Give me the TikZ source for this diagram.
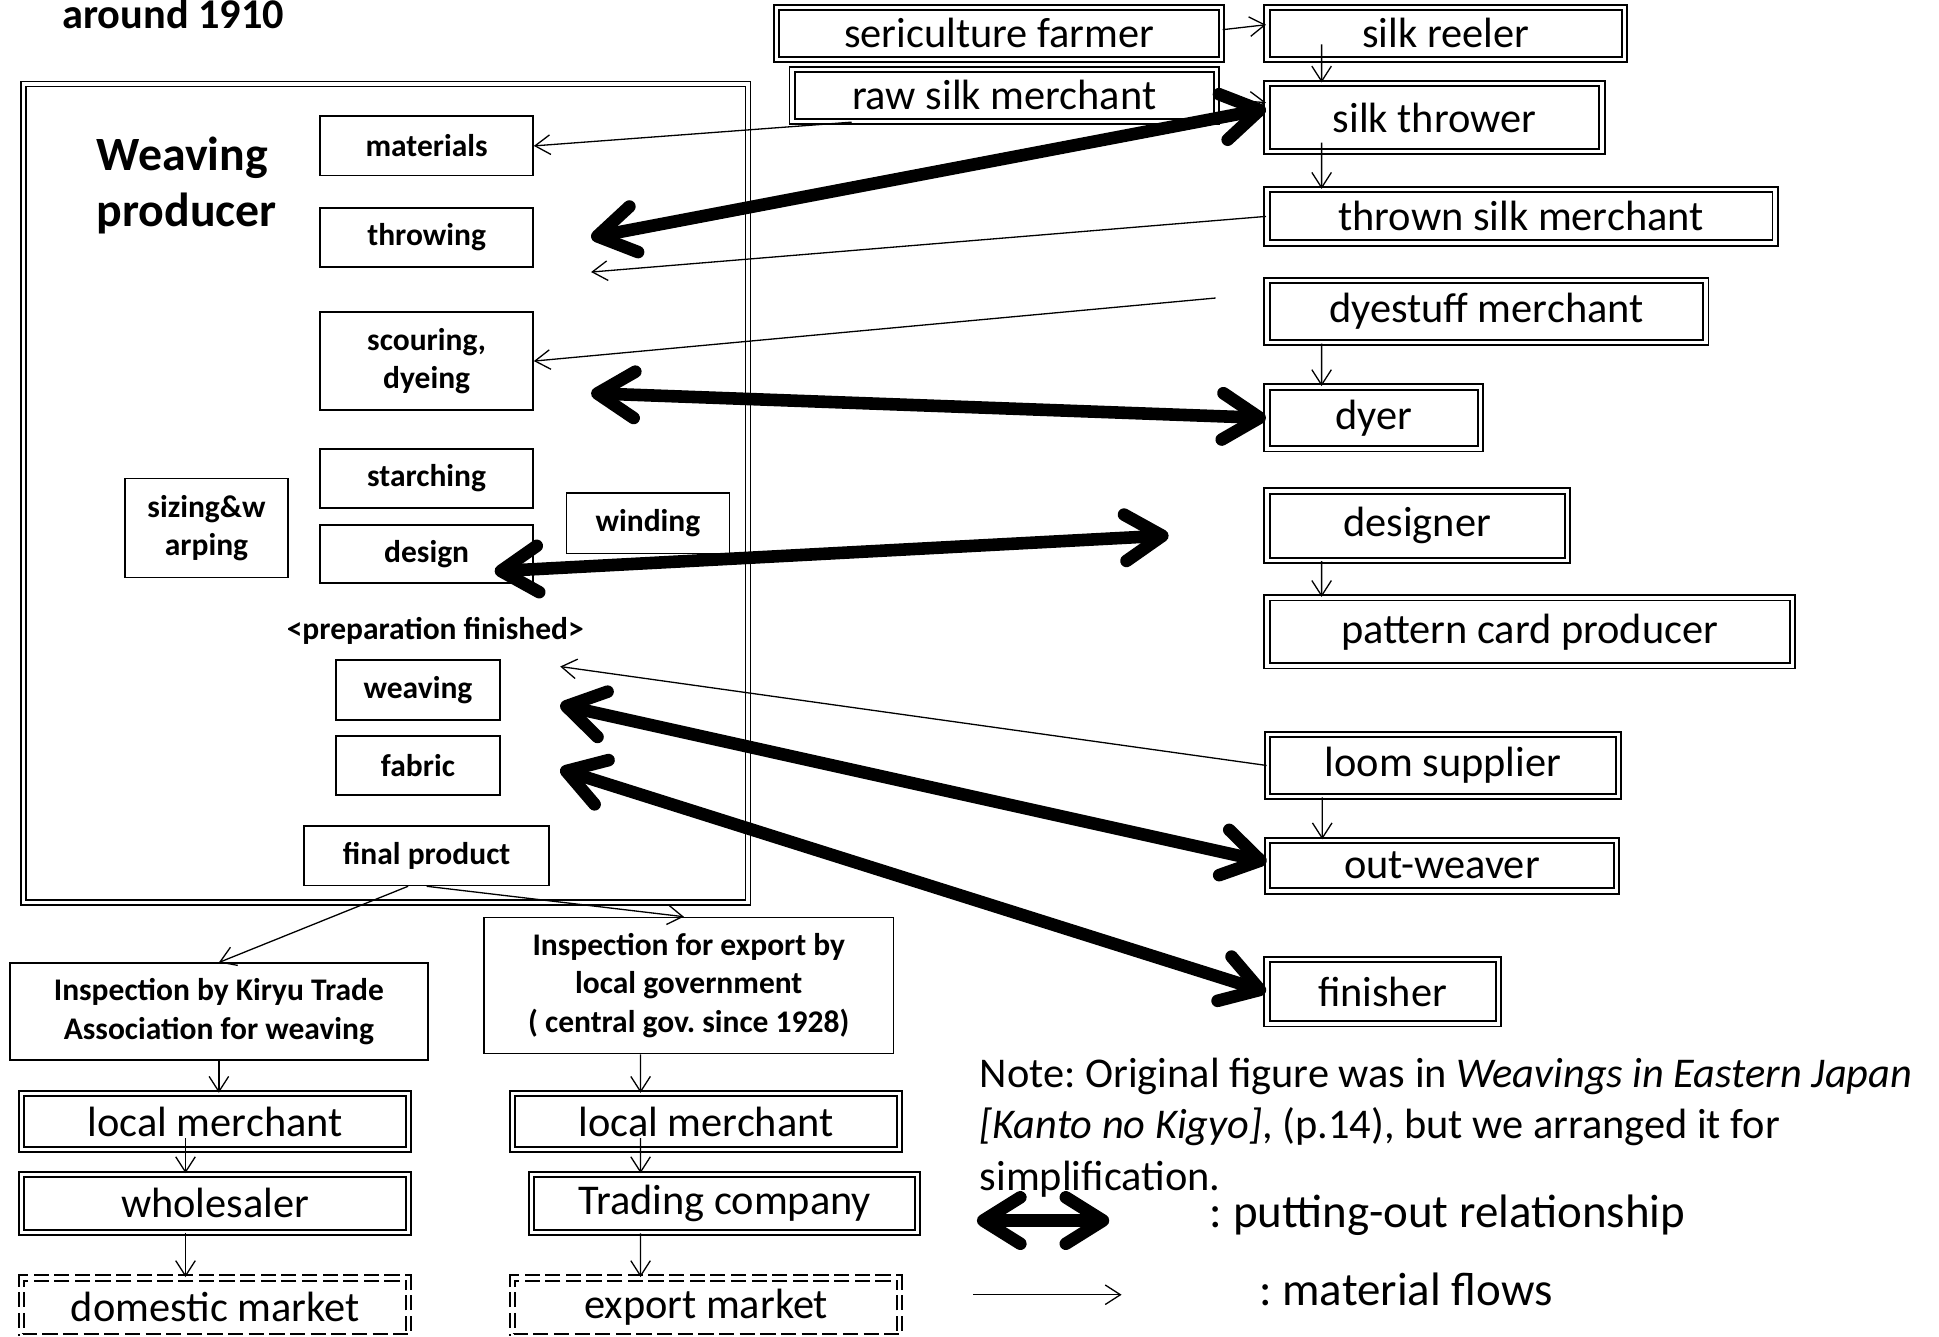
\documentclass[tikz,border=0pt]{standalone}
\usepackage{fontspec}
\setmainfont{Carlito}
\usetikzlibrary{arrows.meta, positioning}
\frenchspacing

\begin{document}
\begin{tikzpicture}[
  x=0.02cm, y=-0.02cm,
  actor/.style={draw, double, double distance=1.5pt, line width=0.9pt,
                inner sep=2pt, font=\fontsize{19.5}{22}\selectfont},
  market/.style={actor, dash pattern=on 7pt off 2.5pt},
  stage/.style={draw, line width=0.8pt, align=center, inner sep=2pt,
                font=\fontsize{14.5}{17.6}\selectfont\bfseries},
  frame/.style={draw, double, double distance=1.6pt, line width=0.7pt},
  flow/.style={-{Straight Barb[length=7pt, width=9pt]}, line width=0.6pt},
  putout/.style={{Straight Barb[length=0.6cm, width=0.75cm, round]}-{Straight Barb[length=0.6cm, width=0.75cm, round]},
                 line width=5.8pt},
  lgd/.style={font=\fontsize{21.6}{24}\selectfont, anchor=west, inner sep=0pt}
]
\useasboundingbox (0,0) rectangle (1568,1081);

\node[font=\fontsize{19.5}{22}\selectfont\bfseries, anchor=base west, inner sep=0pt] (year) at (50,23) {around 1910};

% weaving producer and its stages
\node[frame, minimum width=11.72cm, minimum height=13.24cm] (wp) at (312,399) {};
\node[font=\fontsize{22}{26}\selectfont\bfseries, align=left, anchor=west] (wplbl) at (72,150) {Weaving\\producer};

\node[stage, minimum width=3.44cm, minimum height=0.96cm] (mat) at (345,118) {materials};
\node[stage, minimum width=3.44cm, minimum height=0.96cm] (thr) at (345,192) {throwing};
\node[stage, minimum width=3.44cm, minimum height=1.58cm] (scour) at (345,292) {scouring,\\dyeing};
\node[stage, minimum width=3.44cm, minimum height=0.96cm] (starch) at (345,387) {starching};
\node[stage, minimum width=3.44cm, minimum height=0.94cm] (des) at (345,448) {design};
\node[stage, minimum width=2.64cm, minimum height=1.6cm] (size) at (167,427) {sizing\&w\\arping};
\node[stage, minimum width=2.64cm, minimum height=0.98cm] (wind) at (524,423) {winding};
\node[font=\fontsize{14.5}{17}\selectfont\bfseries] (prep) at (352,510) {\textless preparation finished\textgreater};
\node[stage, minimum width=2.66cm, minimum height=0.96cm] (weav) at (338,558) {weaving};
\node[stage, minimum width=2.66cm, minimum height=0.96cm] (fab) at (338,619) {fabric};
\node[stage, minimum width=3.96cm, minimum height=0.96cm] (fp) at (345,692) {final product};

% outside actors
\node[actor, minimum width=7.2cm, minimum height=0.84cm] (seri) at (808,27) {sericulture farmer};
\node[actor, minimum width=5.78cm, minimum height=0.84cm] (sr) at (1169,27) {silk reeler};
\node[actor, minimum width=6.86cm, minimum height=0.84cm] (rsm) at (812,77) {raw silk merchant};
\node[actor, minimum width=5.42cm, minimum height=1.1cm] (st) at (1160,95) {silk thrower};
\node[actor, minimum width=8.22cm, minimum height=0.86cm] (tsm) at (1230,175) {thrown silk merchant};
\node[actor, minimum width=7.1cm, minimum height=1.0cm] (dsm) at (1202,252) {dyestuff merchant};
\node[actor, minimum width=3.46cm, minimum height=1.0cm] (dyer) at (1111,338) {dyer};
\node[actor, minimum width=4.86cm, minimum height=1.12cm] (dsg) at (1146,425) {designer};
\node[actor, minimum width=8.5cm, minimum height=1.1cm] (pcp) at (1237,511) {pattern card producer};
\node[actor, minimum width=5.68cm, minimum height=1.0cm] (ls) at (1167,619) {loom supplier};
\node[actor, minimum width=5.64cm, minimum height=0.82cm] (ow) at (1166,700) {out-weaver};
\node[actor, minimum width=3.74cm, minimum height=1.04cm] (fin) at (1118,802) {finisher};

% inspection and sales
\node[stage, minimum width=6.76cm, minimum height=1.56cm] (kiryu) at (177,818) {Inspection by Kiryu Trade\\Association for weaving};
\node[stage, minimum width=6.62cm, minimum height=2.2cm] (expi) at (557,797) {Inspection for export by\\local government\\( central gov. since 1928)};
\node[actor, minimum width=6.26cm, minimum height=0.9cm] (lm1) at (174,907) {local merchant};
\node[actor, minimum width=6.26cm, minimum height=0.94cm] (wh) at (174,973) {wholesaler};
\node[market, minimum width=6.26cm, minimum height=0.94cm] (dom) at (174,1057) {domestic market};
\node[actor, minimum width=6.26cm, minimum height=0.9cm] (lm2) at (571,907) {local merchant};
\node[actor, minimum width=6.24cm, minimum height=0.94cm] (tc) at (586,973) {Trading company};
\node[market, minimum width=6.26cm, minimum height=0.94cm] (em) at (571,1057) {export market};

% note and legend
\node[anchor=north west, align=left, inner sep=0pt, font=\fontsize{19.5}{23.8}\selectfont] (note) at (792,855)
  {Note: Original figure was in \textit{Weavings in Eastern Japan}\\
   \textit{[Kanto no Kigyo]}, (p.14), but we arranged it for\\
   simplification.};
\coordinate (lgput1) at (790,987);
\coordinate (lgput2) at (897,987);
\coordinate (lgflow1) at (787,1047);
\coordinate (lgflow2) at (907,1047);
\node[lgd] (lgputlbl) at (978,983) {: putting-out relationship};
\node[lgd] (lgflowlbl) at (1018,1043) {: material flows};

% free ends
\coordinate (thrin) at (478,220);
\coordinate (throut) at (478,192);
\coordinate (dyeout) at (983,241);
\coordinate (scourout) at (478,318);
\coordinate (desout) at (400,462);
\coordinate (dsgin) at (945,433);
\coordinate (prepin) at (453,539);
\coordinate (weavout) at (453,570);
\coordinate (fabout) at (453,622);

% material flows
\draw[flow] ([yshift=0.06cm]seri.east) -- ([yshift=0.14cm]sr.west);
\draw[flow] ([yshift=-0.06cm]rsm.east) -- ([yshift=0.24cm]st.west);
\draw[flow] ([xshift=0.9cm, yshift=0.26cm]sr.south west) -- ([xshift=0.9cm]st.north west);
\draw[flow] ([xshift=0.9cm, yshift=0.16cm]st.south west) -- ([xshift=0.9cm]tsm.north west);
\draw[flow] ([xshift=0.98cm]rsm.south west) -- (mat.east);
\draw[flow] (tsm.west) -- (thrin);
\draw[flow] (dyeout) -- (scour.east);
\draw[flow] ([xshift=0.9cm]dsm.south west) -- ([xshift=0.9cm]dyer.north west);
\draw[flow] ([xshift=0.9cm]dsg.south west) -- ([xshift=0.9cm]pcp.north west);
\draw[flow] (ls.west) -- (prepin);
\draw[flow] ([xshift=0.9cm]ls.south west) -- ([xshift=0.9cm]ow.north west);
\draw[flow] ([xshift=-0.3cm]fp.south) -- (kiryu.north);
\draw[flow] (fp.south) -- ([xshift=-0.08cm]expi.north);
\draw[flow] (kiryu.south) -- (kiryu.south |- lm1.north);
\draw[flow] ([xshift=-0.48cm, yshift=0.2cm]lm1.south) -- ([xshift=-0.48cm]wh.north);
\draw[flow] ([xshift=-0.48cm]wh.south) -- ([xshift=-0.48cm]dom.north);
\draw[flow] ([xshift=-0.78cm]expi.south) -- ([xshift=-1.06cm]lm2.north);
\draw[flow] ([xshift=-1.06cm, yshift=0.2cm]lm2.south) -- ([xshift=-1.36cm]tc.north);
\draw[flow] ([xshift=-1.36cm]tc.south) -- ([xshift=-1.06cm]em.north);

% putting-out
\draw[putout] (throut) -- ([yshift=0.14cm]st.west);
\draw[putout] (scourout) -- (dyer.west);
\draw[putout] (desout) -- (dsgin);
\draw[putout] (weavout) -- ([yshift=0.06cm]ow.west);
\draw[putout] (fabout) -- (fin.west);

% legend arrows
\draw[putout] (lgput1) -- (lgput2);
\draw[flow] (lgflow1) -- (lgflow2);
\end{tikzpicture}
\end{document}
